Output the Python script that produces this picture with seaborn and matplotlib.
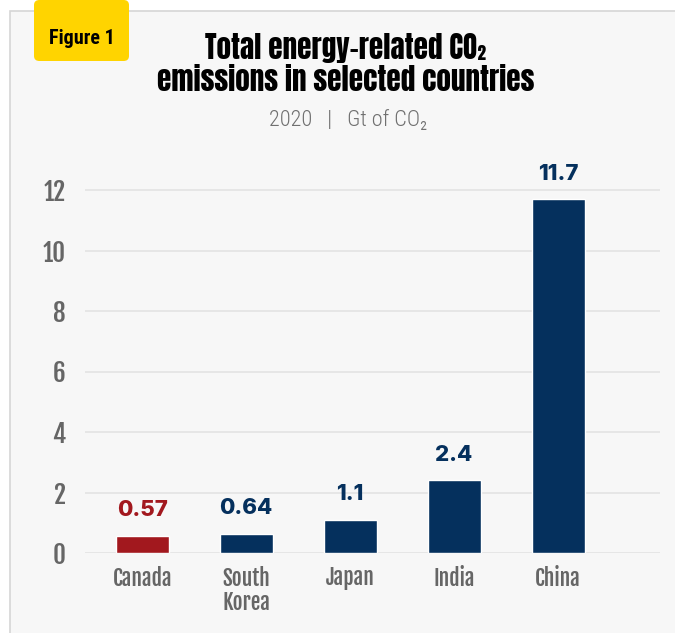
import matplotlib
matplotlib.use("Agg")
import matplotlib.pyplot as plt
from matplotlib.patches import FancyBboxPatch, Rectangle
import seaborn as sns
import pandas as pd

countries = ["Canada", "South\nKorea", "Japan", "India", "China"]
emissions = [0.57, 0.64, 1.1, 2.4, 11.7]
value_labels = ["0.57", "0.64", "1.1", "2.4", "11.7"]
y_ticks = [0, 2, 4, 6, 8, 10, 12]

NAVY = "#05305d"
RED = "#a2181e"
GRAY = "#666666"
PANEL = "#f7f7f7"

bar_colors = [RED, NAVY, NAVY, NAVY, NAVY]

TITLE_FONT = ["Anton", "DejaVu Sans"]
COND_FONT = ["Roboto Condensed", "DejaVu Sans"]
TICK_FONT = ["Fjalla One", "DejaVu Sans"]
LIGHT_FONT = ["Roboto Condensed", "DejaVu Sans"]
VALUE_FONT = ["Inter", "DejaVu Sans"]

sns.set_theme(style="white")
plt.rcParams["font.family"] = COND_FONT

W, H = 675, 633
fig = plt.figure(figsize=(W / 100, H / 100), dpi=100)
fig.patch.set_facecolor("white")

# panel with a thin border on top and left
fig.patches.append(Rectangle((10 / W, -0.01), 1, 1.01 - 11 / H, transform=fig.transFigure,
                             facecolor=PANEL, edgecolor="#d6d6d6", linewidth=1.2, zorder=-3))

# yellow figure badge
fig.patches.append(FancyBboxPatch((34 / W, (H - 61) / H), 95 / W, 61 / H,
                                  boxstyle="round,pad=0,rounding_size=0.008",
                                  transform=fig.transFigure, facecolor="#ffd400",
                                  edgecolor="none", zorder=-2))
fig.text(82 / W, 1 - 38 / H, "Figure 1", ha="center", va="center", fontsize=14.5,
         fontweight="bold", color="black", family=COND_FONT)

fig.text(346 / W, 1 - 48 / H, "Total energy-related CO\u2082", ha="center", va="center",
         fontsize=21, color="black", family=TITLE_FONT)
fig.text(346 / W, 1 - 80 / H, "emissions in selected countries", ha="center", va="center",
         fontsize=21, color="black", family=TITLE_FONT)
fig.text(348 / W, 1 - 121 / H, "2020   |   Gt of CO\u2082", ha="center", va="center",
         fontsize=16, fontweight=300, color="#707070", family=LIGHT_FONT)

# axes: x from 85 to 660 px, y zero at 553 px, 12 at 190 px
px_per_unit = (553 - 190) / 12
ax_bottom = H - 553
ymax = 12.5
ax_height = ymax * px_per_unit
ax = fig.add_axes([85 / W, ax_bottom / H, (660 - 85) / W, ax_height / H])
ax.set_facecolor("none")

df = pd.DataFrame({"country": countries, "value": emissions})
sns.barplot(data=df, x="country", y="value", hue="country", palette=bar_colors,
            legend=False, width=0.51, saturation=1, ax=ax, zorder=3)

ax.set_xlim(-0.55, 4.98)
ax.set_ylim(0, ymax)
ax.set_yticks(y_ticks)
ax.set_yticklabels([str(t) for t in y_ticks])
ax.yaxis.grid(True, color="#e3e3e3", linewidth=1.2, zorder=0)
ax.set_axisbelow(True)
for s in ax.spines.values():
    s.set_visible(False)
ax.set_xlabel("")
ax.set_ylabel("")
ax.tick_params(axis="y", length=0, pad=14, labelsize=18, labelcolor=GRAY)
ax.tick_params(axis="x", length=0, pad=9, labelsize=15.5, labelcolor=GRAY)
for lbl in ax.get_yticklabels() + ax.get_xticklabels():
    lbl.set_family(TICK_FONT)
for lbl in ax.get_xticklabels():
    lbl.set_va("top")
    lbl.set_linespacing(1.0)

for i, (v, txt) in enumerate(zip(emissions, value_labels)):
    ax.annotate(txt, (i, v), xytext=(0, 11), textcoords="offset points",
                ha="center", va="bottom", fontsize=16, fontweight="heavy",
                family=VALUE_FONT, color=bar_colors[i], annotation_clip=False)

fig.savefig("out.png", dpi=100, facecolor=fig.get_facecolor())
